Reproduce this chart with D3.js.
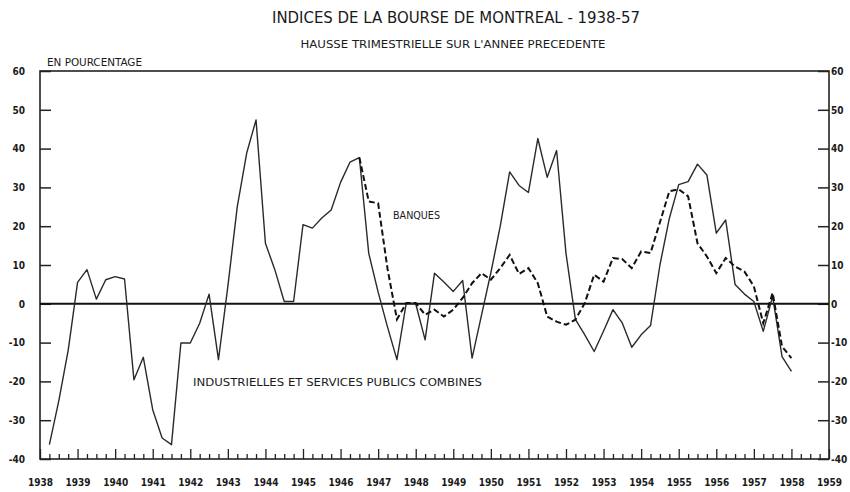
<!DOCTYPE html>
<html>
<head>
<meta charset="utf-8">
<script src="https://cdn.jsdelivr.net/npm/d3@7"></script>
<style>
	body { margin: 0; background: #fff; }
	svg { display: block; }
	text { font-family: "DejaVu Sans Condensed", "Liberation Sans Narrow", sans-serif; font-stretch: condensed; fill: #1a1a1a; }
	.axis text { font-weight: bold; font-size: 10px; }
</style>
</head>
<body>
<svg id="chart" width="850" height="492"></svg>
<script>
// quarterly points, plotted at year + quarter offset
const years = d3.range(1938, 1960);
const yTicks = [-40, -30, -20, -10, 0, 10, 20, 30, 40, 50, 60];

// industrielles et services publics combines (solid line), from 1938.25
const indStart = 1938.25;
const indValues = [
	-36.3, -25, -12, 5.5,
	8.8, 1.2, 6.2, 7.0,
	6.4, -19.6, -13.8, -27.3,
	-34.6, -36.3, -10.1, -10.1,
	-5, 2.5, -14.4, 4.5,
	25, 38.8, 47.4, 15.6,
	8.8, 0.6, 0.6, 20.4,
	19.5, 22.1, 24.2, 31.3,
	36.5, 37.7, 13, 3,
	-6, -14.4, 0.3, 0.0,
	-9.3, 7.9, 5.6, 3.2,
	6.0, -14, -3, 8,
	20, 34, 30.5, 28.7,
	42.6, 32.6, 39.5, 13,
	-4, -8, -12.3, -7,
	-1.5, -5, -11.2, -8,
	-5.6, 10, 22, 30.7,
	31.5, 36, 33.2, 18.2,
	21.6, 5, 2.5, 0.6,
	-7.1, 1.9, -13.6, -17.4
];

// banques (dashed line), from 1946.5
const bankStart = 1946.5;
const bankValues = [
	37.7, 26.4, 25.9,
	9, -4, 0.2, 0.2,
	-2.8, -1.5, -3.3, -1.5,
	1.5, 5.3, 7.9, 6.2,
	9.2, 12.6, 7.7, 9.2,
	5.3, -3.3, -4.6, -5.4,
	-4.1, 0.2, 7.5, 5.7,
	11.8, 11.5, 9.2, 13.5,
	13.1, 21, 29, 29.5,
	27.7, 15.6, 12.2, 7.9,
	11.8, 9.6, 8.3, 4.5,
	-5, 2.8, -11, -14
];

function toPoints(start, values) {
	return values.map((v, i) => ({ t: start + i * 0.25, v: v }));
}

const svg = d3.select("#chart");
const plotLeft = 40, plotRight = 829, plotTop = 71, plotBottom = 459;

const x = d3.scaleLinear().domain([1938, 1959]).range([plotLeft, plotRight]);
const y = d3.scaleLinear().domain([-40, 60]).range([plotBottom, plotTop]);

// plain hyphen for negatives, like the original
const fmt = d => String(d);

// titles
svg.append("text").attr("x", 456).attr("y", 23).attr("text-anchor", "middle")
	.attr("font-size", 16).attr("textLength", 368).attr("lengthAdjust", "spacingAndGlyphs")
	.text("INDICES DE LA BOURSE DE MONTREAL - 1938-57");
svg.append("text").attr("x", 453).attr("y", 48).attr("text-anchor", "middle")
	.attr("font-size", 11).attr("textLength", 305).attr("lengthAdjust", "spacingAndGlyphs")
	.text("HAUSSE TRIMESTRIELLE SUR L'ANNEE PRECEDENTE");
svg.append("text").attr("x", 47).attr("y", 66)
	.attr("font-size", 10.5).attr("textLength", 95).attr("lengthAdjust", "spacingAndGlyphs")
	.text("EN POURCENTAGE");

// y axes, ticks pointing inward
svg.append("g").attr("class", "axis").attr("transform", `translate(${plotLeft},0)`)
	.call(d3.axisLeft(y).tickValues(yTicks).tickFormat(fmt).tickSizeInner(-11).tickSizeOuter(0).tickPadding(15))
	.call(g => g.select(".domain").remove())
	.call(g => g.selectAll("line").attr("stroke", "#222").attr("stroke-width", 1.5));
svg.append("g").attr("class", "axis").attr("transform", `translate(${plotRight},0)`)
	.call(d3.axisRight(y).tickValues(yTicks).tickFormat(fmt).tickSizeInner(-11).tickSizeOuter(0).tickPadding(2))
	.call(g => g.select(".domain").remove())
	.call(g => g.selectAll("line").attr("stroke", "#222").attr("stroke-width", 1.5));

// x axis: year ticks and quarter ticks
const quarters = d3.range(1938, 1959.01, 0.25).filter(q => q % 1 !== 0);
svg.append("g").attr("class", "axis").attr("transform", `translate(0,${plotBottom})`)
	.call(d3.axisBottom(x).tickValues(quarters).tickSizeInner(-5).tickSizeOuter(0).tickFormat(""))
	.call(g => g.select(".domain").remove())
	.call(g => g.selectAll("line").attr("stroke", "#222").attr("stroke-width", 1.3));
svg.append("g").attr("class", "axis").attr("transform", `translate(0,${plotBottom})`)
	.call(d3.axisBottom(x).tickValues(years).tickSizeInner(-10).tickSizeOuter(0)
		.tickPadding(20).tickFormat(d3.format("d")))
	.call(g => g.select(".domain").remove())
	.call(g => g.selectAll("line").attr("stroke", "#222").attr("stroke-width", 1.3));

// frame
svg.append("rect").attr("x", plotLeft).attr("y", plotTop)
	.attr("width", plotRight - plotLeft).attr("height", plotBottom - plotTop)
	.attr("fill", "none").attr("stroke", "#222").attr("stroke-width", 1.6);

// zero line
svg.append("line").attr("x1", plotLeft).attr("x2", plotRight)
	.attr("y1", y(0)).attr("y2", y(0))
	.attr("stroke", "#111").attr("stroke-width", 2);

const line = d3.line().x(d => x(d.t)).y(d => y(d.v));

svg.append("path").datum(toPoints(indStart, indValues))
	.attr("d", line).attr("fill", "none")
	.attr("stroke", "#2a2a2a").attr("stroke-width", 1.4).attr("stroke-linejoin", "round");

svg.append("path").datum(toPoints(bankStart, bankValues))
	.attr("d", line).attr("fill", "none")
	.attr("stroke", "#111").attr("stroke-width", 2).attr("stroke-dasharray", "6,3");

// series labels
svg.append("text").attr("x", 393).attr("y", 219)
	.attr("font-size", 11).attr("textLength", 47).attr("lengthAdjust", "spacingAndGlyphs")
	.text("BANQUES");
svg.append("text").attr("x", 193).attr("y", 386)
	.attr("font-size", 11).attr("textLength", 289).attr("lengthAdjust", "spacingAndGlyphs")
	.text("INDUSTRIELLES ET SERVICES PUBLICS COMBINES");
</script>
</body>
</html>
